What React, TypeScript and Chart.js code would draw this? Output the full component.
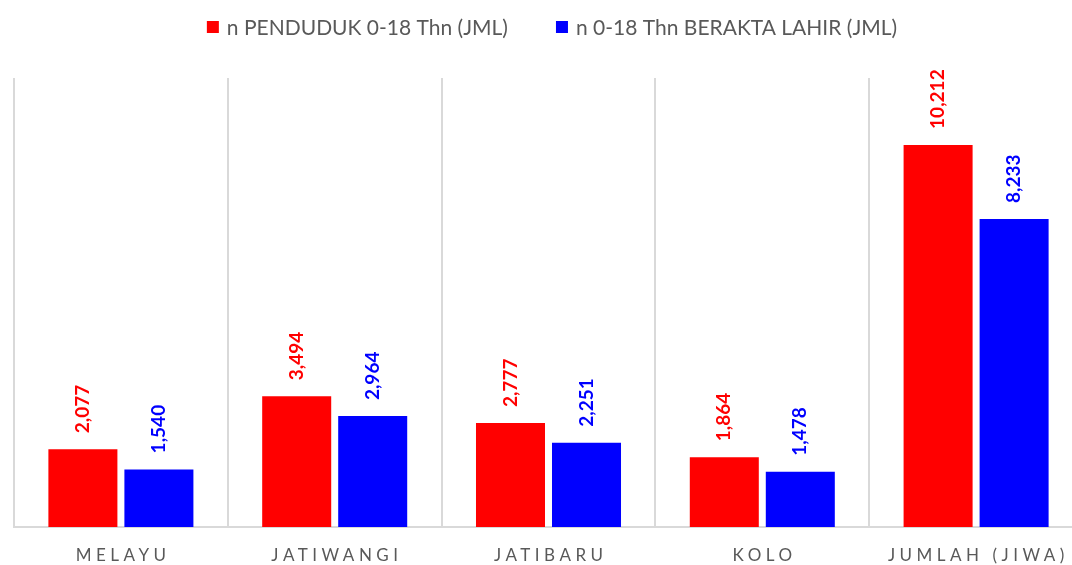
import React, { useEffect, useRef } from "react";
import { Chart, registerables } from "chart.js";

Chart.register(...registerables);

const categories = ["MELAYU", "JATIWANGI", "JATIBARU", "KOLO", "JUMLAH (JIWA)"];
const pendudukValues = [2077, 3494, 2777, 1864, 10212];
const aktaValues = [1540, 2964, 2251, 1478, 8233];
const seriesNames = ["n PENDUDUK 0-18 Thn (JML)", "n 0-18 Thn BERAKTA LAHIR (JML)"];
const seriesColors = ["#FF0000", "#0000FF"];

const FONT = "Lato, 'Noto Sans', sans-serif";

const labelPlugin = {
  id: "customLabels",
  afterDraw(chart: any) {
    const ctx = chart.ctx as CanvasRenderingContext2D;
    // legend
    ctx.save();
    ctx.font = `21px ${FONT}`;
    ctx.textBaseline = "middle";
    ctx.textAlign = "left";
    const box = 12, gap = 8, itemGap = 48;
    const widths = seriesNames.map((s) => ctx.measureText(s).width);
    const total = widths.reduce((a, w) => a + box + gap + w, 0) + itemGap * (seriesNames.length - 1);
    let lx = 552 - total / 2;
    const ly = 27;
    seriesNames.forEach((s, i) => {
      ctx.fillStyle = seriesColors[i];
      ctx.fillRect(lx, ly - box / 2, box, box);
      ctx.fillStyle = "#595959";
      ctx.fillText(s, lx + box + gap, ly + 1);
      lx += box + gap + widths[i] + itemGap;
    });
    ctx.restore();
    // data labels
    chart.data.datasets.forEach((ds: any, di: number) => {
      const meta = chart.getDatasetMeta(di);
      meta.data.forEach((bar: any, i: number) => {
        const v = ds.data[i] as number;
        ctx.save();
        ctx.translate(bar.x, bar.y - 16);
        ctx.rotate(-Math.PI / 2);
        ctx.font = `bold 19px ${FONT}`;
        ctx.fillStyle = seriesColors[di];
        ctx.textAlign = "left";
        ctx.textBaseline = "middle";
        ctx.fillText(v.toLocaleString("en-US"), 0, 0);
        ctx.restore();
      });
    });
    // x category labels with letter spacing
    const xs = chart.scales.x;
    ctx.save();
    ctx.font = `17px ${FONT}`;
    (ctx as any).letterSpacing = "4.5px";
    ctx.fillStyle = "#595959";
    ctx.textAlign = "center";
    ctx.textBaseline = "middle";
    categories.forEach((c, i) => {
      const x = xs.getPixelForTick(i);
      ctx.fillText(c, x + 2.25, 556);
    });
    ctx.restore();
  },
};

export default function App() {
  const ref = useRef<HTMLCanvasElement | null>(null);
  useEffect(() => {
    document.body.style.margin = "0";
    if (!ref.current) return;
    const chart = new Chart(ref.current, {
      type: "bar",
      data: {
        labels: categories,
        datasets: [
          {
            label: seriesNames[0],
            data: pendudukValues,
            backgroundColor: seriesColors[0],
            categoryPercentage: 0.711,
            barPercentage: 0.908,
          },
          {
            label: seriesNames[1],
            data: aktaValues,
            backgroundColor: seriesColors[1],
            categoryPercentage: 0.711,
            barPercentage: 0.908,
          },
        ],
      },
      options: {
        animation: false,
        responsive: false,
        maintainAspectRatio: false,
        layout: { padding: { left: 14, right: 13, top: 78, bottom: 0 } },
        plugins: {
          legend: { display: false },
          tooltip: { enabled: false },
        },
        scales: {
          x: {
            grid: { display: true, offset: true, color: "#d9d9d9", lineWidth: 2, drawTicks: false },
            border: { display: true, color: "#d9d9d9", width: 2 },
            ticks: { color: "transparent", font: { family: FONT, size: 17 }, padding: 0 },
            afterFit(scale: any) {
              scale.height = 38;
            },
          },
          y: {
            display: false,
            min: 0,
            max: 12000,
          },
        },
      },
      plugins: [labelPlugin],
    });
    return () => chart.destroy();
  }, []);
  return (
    <div style={{ position: "fixed", left: 0, top: 0, width: 1072, height: 565, overflow: "hidden", background: "#fff" }}>
      <canvas ref={ref} width={1096} height={565} style={{ display: "block" }} />
    </div>
  );
}
